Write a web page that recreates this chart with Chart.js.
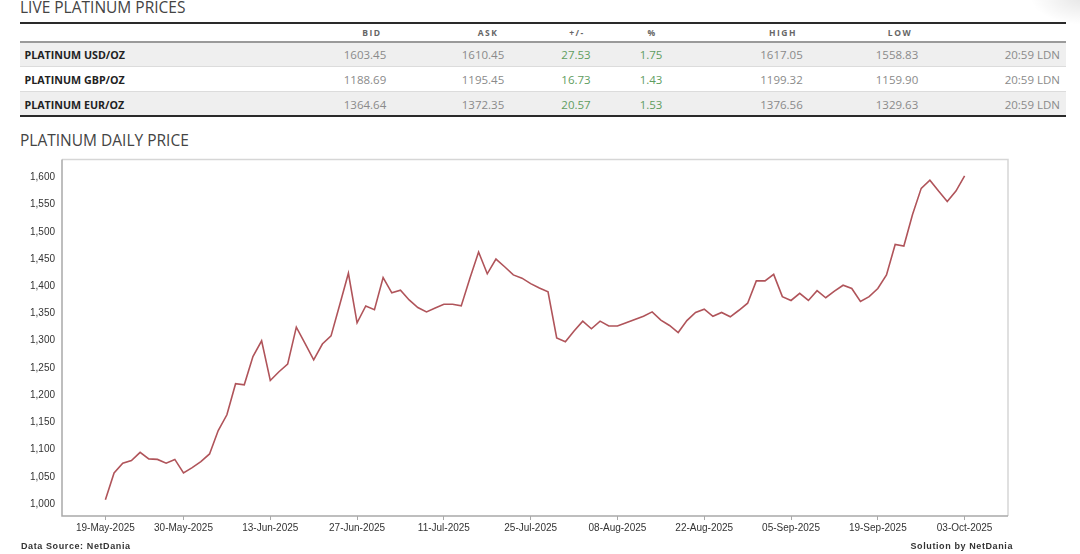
<!DOCTYPE html>
<html><head><meta charset="utf-8">
<script src="https://cdn.jsdelivr.net/npm/chart.js@4.4.1/dist/chart.umd.min.js"></script>
<style>
html,body{margin:0;padding:0;background:#fff;width:1080px;height:554px;overflow:hidden;position:relative;font-family:"Open Sans",sans-serif;}
.title{position:absolute;left:20px;font-size:15.5px;color:#444;white-space:nowrap;line-height:20px;}
.line{position:absolute;left:19.5px;width:1046px;}
.cell{position:absolute;white-space:nowrap;text-align:center;width:120px;line-height:16px;}
.hdr{font-size:8.5px;font-weight:700;color:#666;letter-spacing:1.5px;}
.lbl{font-size:10.7px;font-weight:700;color:#222;text-align:left;width:200px;}
.val{font-size:11.5px;color:#8a8a8a;}
.grn{font-size:11.5px;color:#5f9d5f;}
.foot{position:absolute;top:539px;font-family:"Liberation Sans",Arial,sans-serif;font-size:9px;font-weight:700;color:#333;letter-spacing:0.6px;white-space:nowrap;line-height:14px;}
#wrap{position:absolute;left:0;top:150px;width:1080px;height:404px;}
.shade{position:absolute;left:1030px;top:-30px;width:110px;height:55px;border-radius:50%;background:radial-gradient(ellipse at center,rgba(0,0,0,0.10),rgba(0,0,0,0) 70%);}
</style>
</head><body>
<div class="shade"></div>
<div class="title" style="top:-3px;">LIVE PLATINUM PRICES</div>
<div id="table"></div>
<div class="title" style="top:130px;">PLATINUM DAILY PRICE</div>
<div id="wrap"><canvas id="c"></canvas></div>
<div class="foot" style="left:21px;">Data Source: NetDania</div>
<div class="foot" style="right:67px;">Solution by NetDania</div>
<script>
// ---- table data ----
const tableHeaders = ["BID","ASK","+/-","%","HIGH","LOW"];
const rowNames = ["PLATINUM USD/OZ","PLATINUM GBP/OZ","PLATINUM EUR/OZ"];
const bids  = ["1603.45","1188.69","1364.64"];
const asks  = ["1610.45","1195.45","1372.35"];
const chg   = ["27.53","16.73","20.57"];
const pct   = ["1.75","1.43","1.53"];
const highs = ["1617.05","1199.32","1376.56"];
const lows  = ["1558.83","1159.90","1329.63"];
const times = ["20:59 LDN","20:59 LDN","20:59 LDN"];

// ---- chart data ----
const dates = [
"19-May-2025","20-May-2025","21-May-2025","22-May-2025","23-May-2025","26-May-2025","27-May-2025","28-May-2025","29-May-2025","30-May-2025",
"02-Jun-2025","03-Jun-2025","04-Jun-2025","05-Jun-2025","06-Jun-2025","09-Jun-2025","10-Jun-2025","11-Jun-2025","12-Jun-2025","13-Jun-2025",
"16-Jun-2025","17-Jun-2025","18-Jun-2025","19-Jun-2025","20-Jun-2025","23-Jun-2025","24-Jun-2025","25-Jun-2025","26-Jun-2025","27-Jun-2025",
"30-Jun-2025","01-Jul-2025","02-Jul-2025","03-Jul-2025","04-Jul-2025","07-Jul-2025","08-Jul-2025","09-Jul-2025","10-Jul-2025","11-Jul-2025",
"14-Jul-2025","15-Jul-2025","16-Jul-2025","17-Jul-2025","18-Jul-2025","21-Jul-2025","22-Jul-2025","23-Jul-2025","24-Jul-2025","25-Jul-2025",
"28-Jul-2025","29-Jul-2025","30-Jul-2025","31-Jul-2025","01-Aug-2025","04-Aug-2025","05-Aug-2025","06-Aug-2025","07-Aug-2025","08-Aug-2025",
"11-Aug-2025","12-Aug-2025","13-Aug-2025","14-Aug-2025","15-Aug-2025","18-Aug-2025","19-Aug-2025","20-Aug-2025","21-Aug-2025","22-Aug-2025",
"25-Aug-2025","26-Aug-2025","27-Aug-2025","28-Aug-2025","29-Aug-2025","01-Sep-2025","02-Sep-2025","03-Sep-2025","04-Sep-2025","05-Sep-2025",
"08-Sep-2025","09-Sep-2025","10-Sep-2025","11-Sep-2025","12-Sep-2025","15-Sep-2025","16-Sep-2025","17-Sep-2025","18-Sep-2025","19-Sep-2025",
"22-Sep-2025","23-Sep-2025","24-Sep-2025","25-Sep-2025","26-Sep-2025","29-Sep-2025","30-Sep-2025","01-Oct-2025","02-Oct-2025","03-Oct-2025"
];
const prices = [
1008,1057,1075,1080,1095,1083,1082,1075,1082,1057,
1067,1078,1092,1135,1164,1221,1219,1271,1300,1227,
1243,1257,1325,1295,1265,1294,1309,1366,1424,1333,
1364,1357,1416,1388,1393,1375,1361,1353,1360,1367,
1367,1364,1415,1463,1423,1450,1436,1421,1415,1405,
1397,1390,1305,1298,1318,1336,1322,1336,1327,1327,
1333,1339,1345,1353,1338,1328,1315,1337,1352,1358,
1345,1352,1344,1356,1369,1410,1410,1422,1381,1374,
1387,1374,1392,1379,1391,1402,1396,1372,1381,1396,
1421,1477,1474,1532,1580,1595,1575,1556,1575,1603
];
const xTickLabels = ["19-May-2025","30-May-2025","13-Jun-2025","27-Jun-2025","11-Jul-2025","25-Jul-2025","08-Aug-2025","22-Aug-2025","05-Sep-2025","19-Sep-2025","03-Oct-2025"];
const yTicks = [1000,1050,1100,1150,1200,1250,1300,1350,1400,1450,1500,1550,1600];

// ---- build table ----
(function(){
  const t = document.getElementById('table');
  let h = '';
  h += '<div class="line" style="top:22px;height:2px;background:#2a2a2a;"></div>';
  h += '<div class="line" style="top:41px;height:2px;background:#9a9a9a;"></div>';
  const rowTop = [43,67,92], rowH = [23,24,23];
  rowTop.forEach((tp,i)=>{
    h += '<div class="line" style="top:'+tp+'px;height:'+rowH[i]+'px;background:'+(i%2===0?'#efefef':'#fff')+';"></div>';
    if(i<2) h += '<div class="line" style="top:'+(tp+rowH[i])+'px;height:1px;background:#dcdcdc;"></div>';
  });
  h += '<div class="line" style="top:115px;height:2px;background:#2a2a2a;"></div>';
  const hdrCenters = [372,488,577,652,783,900];
  const valCenters = [365,483,576,651,781.5,897];
  tableHeaders.forEach((s,i)=>{ h += '<div class="cell hdr" style="left:'+(hdrCenters[i]-60)+'px;top:25px;">'+s+'</div>'; });
  const rowMid = [55,80,104.5];
  const cols = [bids,asks,chg,pct,highs,lows];
  rowNames.forEach((n,r)=>{
    const top = rowMid[r]-8;
    h += '<div class="cell lbl" style="left:24.5px;top:'+top+'px;">'+n+'</div>';
    cols.forEach((c,ci)=>{
      h += '<div class="cell '+(ci===2||ci===3?'grn':'val')+'" style="left:'+(valCenters[ci]-60)+'px;top:'+top+'px;">'+c[r]+'</div>';
    });
    h += '<div class="cell val" style="left:'+(1060-120)+'px;top:'+top+'px;text-align:right;">'+times[r]+'</div>';
  });
  t.innerHTML = h;
})();

// ---- chart ----
const framePlugin = {
  id:'frame',
  beforeDatasetsDraw(chart){
    const a = chart.chartArea, ctx = chart.ctx;
    ctx.save();
    ctx.lineWidth = 1.5;
    ctx.strokeStyle = '#d6d6d6';
    ctx.beginPath();
    ctx.moveTo(a.left, a.top); ctx.lineTo(a.right, a.top); ctx.lineTo(a.right, a.bottom);
    ctx.stroke();
    ctx.strokeStyle = '#a9a9a9';
    ctx.beginPath();
    ctx.moveTo(a.left, a.top); ctx.lineTo(a.left, a.bottom); ctx.lineTo(a.right, a.bottom);
    ctx.stroke();
    ctx.restore();
  }
};

new Chart(document.getElementById('c'), {
  type:'line',
  data:{
    datasets:[{
      data: prices.map((v,i)=>({x:i,y:v})),
      borderColor:'#b0545a',
      borderWidth:1.6,
      pointRadius:0,
      tension:0,
      fill:false
    }]
  },
  options:{
    responsive:true,
    maintainAspectRatio:false,
    animation:false,
    layout:{padding:{top:9.5,right:72,left:0,bottom:0}},
    plugins:{legend:{display:false},tooltip:{enabled:false}},
    scales:{
      x:{
        type:'linear',
        min:-5, max:104,
        afterBuildTicks(axis){ axis.ticks = xTickLabels.map(l=>({value:dates.indexOf(l)})); },
        afterFit(axis){ axis.height = 38; axis.paddingLeft = 0; axis.paddingRight = 0; },
        ticks:{
          autoSkip:false, maxRotation:0, padding:2,
          color:'#333',
          font:{family:'"Liberation Sans", Arial, sans-serif', size:10},
          callback:(v)=>dates[v] || ''
        },
        grid:{display:true, drawOnChartArea:false, drawTicks:true, tickLength:4, color:'#a9a9a9'},
        border:{display:false}
      },
      y:{
        type:'linear',
        min:978, max:1633,
        afterBuildTicks(axis){ axis.ticks = yTicks.map(v=>({value:v})); },
        afterFit(axis){ axis.width = 62; axis.paddingTop = 0; axis.paddingBottom = 0; },
        ticks:{
          padding:7,
          color:'#333',
          font:{family:'"Liberation Sans", Arial, sans-serif', size:10},
          callback:(v)=>v.toLocaleString('en-US')
        },
        grid:{display:false, drawTicks:false},
        border:{display:false}
      }
    }
  },
  plugins:[framePlugin]
});
</script>
</body></html>
